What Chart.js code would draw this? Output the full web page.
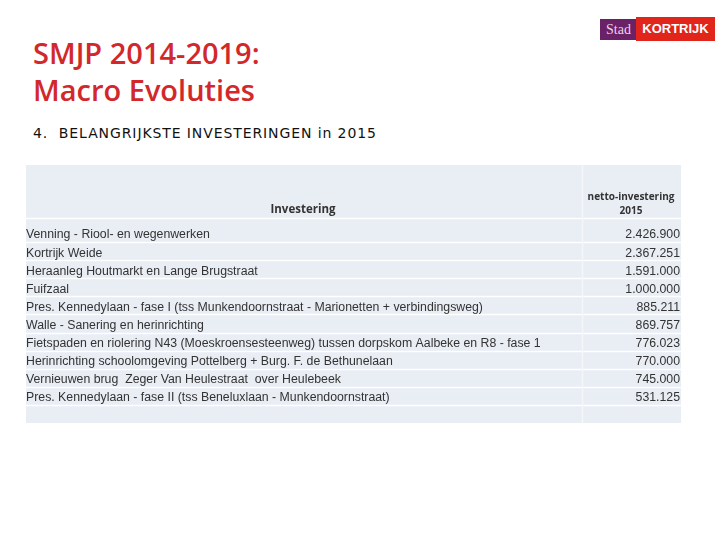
<!DOCTYPE html>
<html>
<head>
<meta charset="utf-8">
<script src="https://cdn.jsdelivr.net/npm/chart.js@4"></script>
<style>
  body { margin: 0; width: 720px; height: 540px; background: #fff; position: relative; overflow: hidden; }
  .title { position: absolute; left: 33px; top: 34px; color: #d2282b; font-family: "Open Sans", sans-serif; font-weight: 600; font-size: 29px; line-height: 37px; letter-spacing: 0px; }
  .sub { position: absolute; left: 33px; top: 125px; font-family: "DejaVu Sans", sans-serif; font-size: 14px; letter-spacing: 0.9px; color: #111; }
  .logo { position: absolute; left: 600px; top: 17px; height: 24px; font-family: "Liberation Sans", sans-serif; }
  .logo .stad { position: absolute; left: 0; top: 2px; width: 37px; height: 21px; background: #6b2166; color: #e9d4e6; font-family: "Liberation Serif", serif; font-size: 14px; line-height: 21px; text-align: center; }
  .logo .kor { position: absolute; left: 36px; top: 0; width: 79px; height: 24px; background: #e1251b; color: #fff; font-weight: bold; font-size: 13px; line-height: 24px; text-align: center; }
  #wrap { position: absolute; left: 26px; top: 165px; }
</style>
</head>
<body>
<div class="title">SMJP 2014-2019:<br>Macro Evoluties</div>
<div class="sub">4.&nbsp; BELANGRIJKSTE INVESTERINGEN in 2015</div>
<div class="logo"><div class="stad">Stad</div><div class="kor">KORTRIJK</div></div>
<div id="wrap"><canvas id="tableChart" width="655" height="258"></canvas></div>
<script>
// ==========================
// DATA
// ==========================
const investeringen = [
    "Venning - Riool- en wegenwerken",
    "Kortrijk Weide",
    "Heraanleg Houtmarkt en Lange Brugstraat",
    "Fuifzaal",
    "Pres. Kennedylaan - fase I (tss Munkendoornstraat - Marionetten + verbindingsweg)",
    "Walle - Sanering en herinrichting",
    "Fietspaden en riolering N43 (Moeskroensesteenweg) tussen dorpskom Aalbeke en R8 - fase 1",
    "Herinrichting schoolomgeving Pottelberg + Burg. F. de Bethunelaan",
    "Vernieuwen brug  Zeger Van Heulestraat  over Heulebeek",
    "Pres. Kennedylaan - fase II (tss Beneluxlaan - Munkendoornstraat)"
];
const nettoInvestering2015 = [2426900, 2367251, 1591000, 1000000, 885211, 869757, 776023, 770000, 745000, 531125];
const headerLabels = ["Investering", "netto-investering", "2015"];

// one empty row at the bottom, like the original table
const rowLabels = investeringen.concat([""]);
const rowValues = nettoInvestering2015.concat([null]);

function formatEuro(v) {
    return v.toString().replace(/\B(?=(\d{3})+(?!\d))/g, ".");
}

// ==========================
// TABLE PLUGIN
// ==========================
const colSplit = 556; // x of the column divider inside the canvas
const bg = "#e9edf4";

const tablePlugin = {
    id: "tablePlugin",
    beforeDraw(chart) {
        const ctx = chart.ctx;
        const area = chart.chartArea;
        const y = chart.scales.y;
        ctx.save();
        ctx.fillStyle = bg;
        ctx.fillRect(0, 0, chart.width, chart.height);

        ctx.strokeStyle = "#ffffff";
        ctx.lineWidth = 1.5;
        // header separator
        ctx.beginPath();
        ctx.moveTo(0, area.top - 5.5);
        ctx.lineTo(chart.width, area.top - 5.5);
        ctx.stroke();
        // row separators
        const band = (area.bottom - area.top) / rowLabels.length;
        for (let i = 0; i < rowLabels.length - 1; i++) {
            const yy = Math.round(y.getPixelForValue(i) + band / 2) + 0.5;
            ctx.beginPath();
            ctx.moveTo(0, yy);
            ctx.lineTo(chart.width, yy);
            ctx.stroke();
        }
        // column divider
        ctx.strokeStyle = "#f4f6fa";
        ctx.beginPath();
        ctx.moveTo(colSplit + 0.5, 0);
        ctx.lineTo(colSplit + 0.5, chart.height);
        ctx.stroke();
        ctx.restore();
    },
    afterDraw(chart) {
        const ctx = chart.ctx;
        const area = chart.chartArea;
        const y = chart.scales.y;
        ctx.save();
        // header
        ctx.fillStyle = "#333";
        ctx.font = "bold 11.5px 'Open Sans', sans-serif";
        ctx.textAlign = "center";
        ctx.textBaseline = "middle";
        ctx.fillText(headerLabels[0], 277, area.top - 14);
        ctx.font = "bold 10px 'Open Sans', sans-serif";
        ctx.fillText(headerLabels[1], 605, area.top - 27);
        ctx.fillText(headerLabels[2], 605, area.top - 13);

        // rows
        ctx.font = "12.3px 'Liberation Sans', sans-serif";
        ctx.fillStyle = "#333";
        rowLabels.forEach((name, i) => {
            const yy = y.getPixelForValue(i) + 2;
            ctx.textAlign = "left";
            ctx.fillText(name, 0, yy);
            if (rowValues[i] !== null) {
                ctx.textAlign = "right";
                ctx.fillText(formatEuro(rowValues[i]), chart.width - 1, yy);
            }
        });
        ctx.restore();
    }
};

// ==========================
// CHART
// ==========================
new Chart(document.getElementById("tableChart"), {
    type: "bar",
    data: {
        labels: rowLabels,
        datasets: [{
            label: "netto-investering 2015",
            data: rowValues,
            backgroundColor: "rgba(0,0,0,0)",
            borderWidth: 0
        }]
    },
    options: {
        indexAxis: "y",
        responsive: false,
        animation: false,
        layout: { padding: { top: 59, bottom: 0, left: 0, right: 0 } },
        plugins: {
            legend: { display: false },
            tooltip: { enabled: false }
        },
        scales: {
            x: { display: false, beginAtZero: true },
            y: { display: false }
        }
    },
    plugins: [tablePlugin]
});
</script>
</body>
</html>
